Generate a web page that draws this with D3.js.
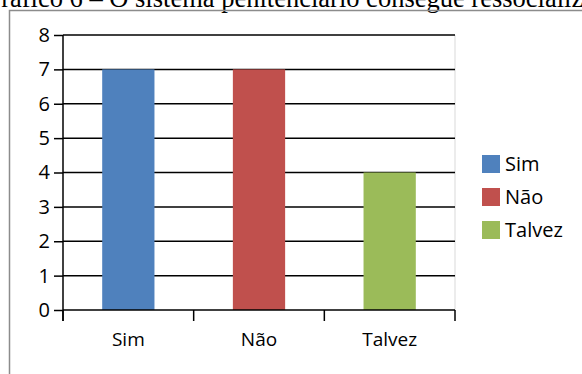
<!DOCTYPE html>
<html>
<head>
<meta charset="utf-8">
<script src="https://cdn.jsdelivr.net/npm/d3@7"></script>
<style>
  body { margin: 0; background: #fff; }
</style>
</head>
<body>
<script>
// Chart data
const categories = ["Sim", "Não", "Talvez"];
const values = [7, 7, 4];
const colors = ["#4F81BD", "#C0504D", "#9BBB59"];
const yTicks = [0, 1, 2, 3, 4, 5, 6, 7, 8];
const title = "Gráfico 6 – O sistema penitenciário consegue ressocializar o preso?";

const width = 582;
const height = 374;

const svg = d3.select("body")
    .append("svg")
    .attr("width", width)
    .attr("height", height);

// caption, cut off at the top as in the source
svg.append("text")
    .attr("x", -18)
    .attr("y", 7)
    .attr("font-family", "Liberation Serif")
    .attr("font-size", 26.5)
    .attr("fill", "#000")
    .text(title);

// chart frame
svg.append("path")
    .attr("d", `M9.5,${height} V10.5 H${width}`)
    .attr("fill", "none")
    .attr("stroke", "#8c8c8c")
    .attr("stroke-width", 1.5);

const plot = { left: 63, right: 455, top: 35, bottom: 310 };

const x = d3.scaleBand()
    .domain(categories)
    .range([plot.left, plot.right])
    .paddingInner(0.6)
    .paddingOuter(0.3);

const y = d3.scaleLinear()
    .domain([0, 8])
    .range([plot.bottom, plot.top]);

const font = "'Open Sans', sans-serif";

// right edge of plot area
svg.append("line")
    .attr("x1", plot.right).attr("x2", plot.right)
    .attr("y1", plot.top).attr("y2", plot.bottom)
    .attr("stroke", "#d9d9d9");

// gridlines
svg.append("g")
    .selectAll("line")
    .data(yTicks.filter(d => d > 0))
    .join("line")
    .attr("x1", plot.left).attr("x2", plot.right)
    .attr("y1", d => y(d)).attr("y2", d => y(d))
    .attr("stroke", "#000")
    .attr("stroke-width", 1.5);

// bars
svg.append("g")
    .selectAll("rect")
    .data(values)
    .join("rect")
    .attr("x", (d, i) => x(categories[i]))
    .attr("width", x.bandwidth())
    .attr("y", d => y(d))
    .attr("height", d => y(0) - y(d))
    .attr("fill", (d, i) => colors[i]);

// y axis
const yAxis = svg.append("g")
    .attr("transform", `translate(${plot.left},0)`)
    .call(d3.axisLeft(y).tickValues(yTicks).tickSize(9).tickPadding(4));
yAxis.select(".domain").remove();
yAxis.selectAll(".tick line").attr("stroke-width", 1.5);
yAxis.selectAll("text")
    .attr("font-family", font)
    .attr("font-size", 20)
    .attr("fill", "#000");
svg.append("line")
    .attr("x1", plot.left).attr("x2", plot.left)
    .attr("y1", plot.top).attr("y2", plot.bottom + 11)
    .attr("stroke", "#000")
    .attr("stroke-width", 1.5);

// x axis
const xAxis = svg.append("g")
    .attr("transform", `translate(0,${plot.bottom})`)
    .call(d3.axisBottom(x).tickSize(0).tickPadding(23));
xAxis.select(".domain")
    .attr("d", `M${plot.left},0H${plot.right}`)
    .attr("stroke-width", 1.5);
xAxis.selectAll("text")
    .attr("font-family", font)
    .attr("font-size", 19)
    .attr("fill", "#000");
// category separator ticks
const sepPos = [plot.left, ...categories.map(c => x(c) - x.step() * x.paddingInner() / 2).slice(1), plot.right];
xAxis.append("g")
    .selectAll("line")
    .data(sepPos)
    .join("line")
    .attr("x1", d => d).attr("x2", d => d)
    .attr("y1", 0).attr("y2", 11)
    .attr("stroke", "#000")
    .attr("stroke-width", 1.5);

// legend
const legend = svg.append("g")
    .attr("transform", "translate(482,155)");
const item = legend.selectAll("g")
    .data(categories)
    .join("g")
    .attr("transform", (d, i) => `translate(0,${i * 33})`);
item.append("rect")
    .attr("width", 18).attr("height", 18)
    .attr("fill", (d, i) => colors[i]);
item.append("text")
    .attr("x", 23)
    .attr("y", 16)
    .attr("font-family", font)
    .attr("font-size", 20)
    .attr("fill", "#000")
    .text(d => d);
</script>
</body>
</html>
